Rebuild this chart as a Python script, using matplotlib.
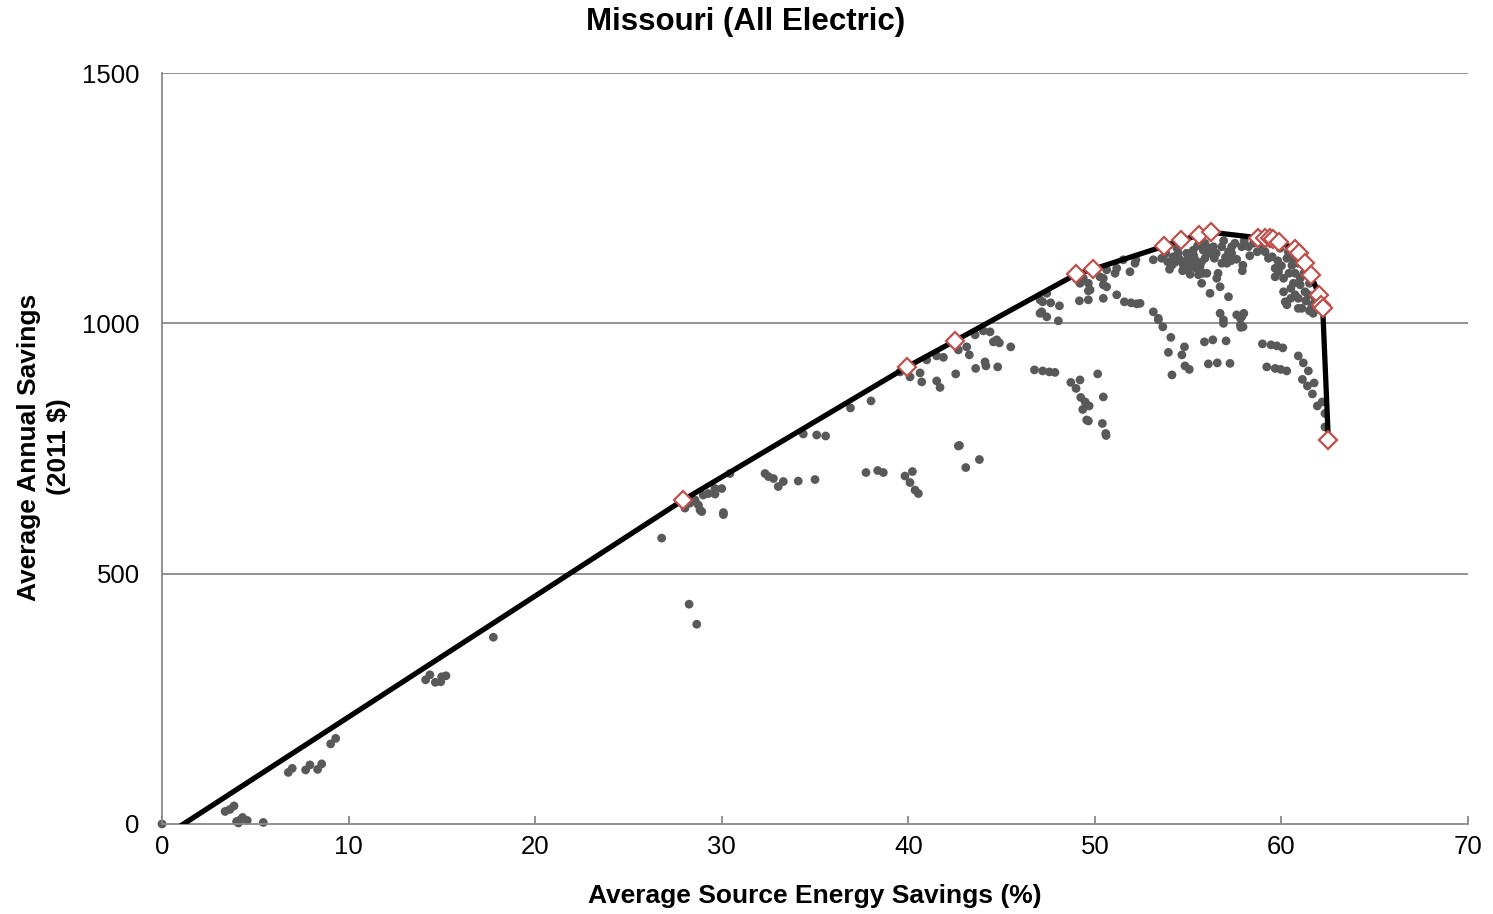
import matplotlib
matplotlib.use("Agg")
import matplotlib.pyplot as plt

plt.rcParams['font.family'] = ['Liberation Sans', 'DejaVu Sans']

# Scatter: all evaluated packages
pts_x = [0, 3.38, 3.64, 3.86, 4.0, 4.18, 4.32, 4.57, 4.1, 5.43,
         6.77, 6.98, 7.7, 7.93, 8.34, 8.56, 9.04, 9.31,
         14.13, 14.36, 14.65, 14.94, 14.99, 15.22, 17.76,
         28.25, 28.66,
         26.78, 28.03, 28.3, 28.57, 28.75, 28.84, 28.93, 29.01, 29.28, 29.64, 29.64, 30.0, 30.09, 30.09, 30.44,
         32.32, 32.5, 32.77, 33.03, 33.3, 34.1, 35.0,
         34.37, 35.09, 35.57,
         37.73, 38.36, 38.66, 39.82, 40.22, 40.09, 40.36, 40.54, 42.68, 36.9,
         38.0, 39.56, 40.09, 40.63, 40.72, 40.99, 41.52, 41.88, 41.52, 41.7, 42.54, 42.68, 43.13, 43.27, 43.58,
         44.02, 44.38, 44.56, 44.74, 44.88, 44.11, 44.16, 43.61, 44.79, 45.49, 42.74, 43.08, 43.81,
         46.76, 47.2, 47.56, 47.86, 48.71, 49.2, 48.99, 49.24, 49.48, 49.69, 49.35, 49.56, 49.65, 50.15, 50.45,
         50.4, 50.58, 50.6,
         47.15, 47.42, 48.04, 47.2, 47.63, 48.1, 49.17, 49.65,
         47.06, 47.42, 49.65, 49.65, 49.38, 49.2, 50.45, 50.45, 50.45, 50.63, 50.27, 51.08, 51.17, 51.17, 51.58,
         51.94, 52.24, 51.88, 52.15, 52.2, 51.52, 47.06, 49.74, 50.63,
         53.4, 53.64, 54.07, 53.94, 54.8, 54.66, 54.83, 55.06, 54.13, 55.87, 56.32, 57.03, 56.08, 56.56, 57.24,
         56.89, 56.89, 57.82, 57.8, 58.98, 59.44, 59.75, 60.07, 59.21, 59.66, 59.96, 60.28, 60.9, 61.17, 61.44,
         61.12, 61.39, 61.75, 61.66, 61.92, 62.18, 62.33, 62.33,
         53.13, 53.58, 54.12, 54.2, 54.47, 54.56, 54.74, 54.92, 55.0, 55.0, 55.19, 55.27, 55.37, 55.55, 55.72,
         55.63, 55.81, 56.17, 56.17, 56.35, 56.53, 56.71, 56.8, 57.07, 57.16, 56.71, 53.13, 53.4, 57.16, 57.6,
         56.8, 57.33, 52.42, 55.44, 57.33, 57.87, 57.94,
         57.87, 58.23, 57.93, 58.7, 59.12, 59.3, 59.5, 59.66, 59.84, 60.11, 60.11, 60.2, 60.29, 60.29, 60.56,
         60.64, 60.73, 60.9, 61.09, 61.0, 61.26, 61.44, 61.62, 60.73, 61.0, 59.92, 60.36, 60.64, 57.98, 57.8,
         59.66,
         53.9, 54.4, 55.5, 55.9, 56.4, 56.6, 57.5, 58.0, 58.5, 58.3, 57.6, 57.9, 59.0, 59.8, 60.0, 60.4, 60.5,
         60.9, 61.2, 61.5, 61.3, 61.8, 60.9, 61.5, 61.7, 62.0, 60.5, 56.0, 53.8, 55.8, 56.9, 58.8, 59.4,
         54.3, 54.9, 55.3, 55.7, 56.1, 54.7, 55.1, 55.9, 56.5, 57.0, 54.0, 57.3]
pts_y = [0, 25, 29, 36, 5, 8, 13, 7, 2, 3,
         103, 111, 108, 118, 109, 120, 160, 171,
         288, 298, 283, 284, 294, 296, 373,
         439, 399,
         571, 631, 641, 647, 637, 627, 624, 657, 660, 670, 659, 670, 622, 618, 700,
         700, 694, 690, 674, 684, 685, 688,
         779, 777, 775,
         702, 706, 702, 695, 704, 682, 667, 660, 755, 831,
         845, 903, 893, 901, 883, 927, 935, 932, 885, 872, 899, 947, 953, 937, 977,
         985, 983, 963, 967, 961, 923, 915, 910, 913, 953, 756, 712, 728,
         907, 905, 903, 902, 882, 887, 870, 852, 843, 835, 828, 807, 805, 899, 853,
         800, 780, 776,
         1023, 1013, 1005, 1043, 1041, 1035, 1045, 1047,
         1020, 1060, 1065, 1080, 1090, 1080, 1050, 1077, 1090, 1107, 1093, 1100, 1110, 1057, 1043,
         1041, 1039, 1103, 1120, 1127, 1127, 1047, 1067, 1073,
         1007, 993, 972, 942, 953, 937, 915, 908, 897, 963, 967, 965, 919, 921, 920,
         1000, 1007, 992, 997, 959, 957, 955, 951, 913, 910, 908, 905, 935, 921, 905,
         888, 875, 881, 859, 835, 843, 820, 793,
         1127, 1130, 1116, 1133, 1140, 1127, 1116, 1140, 1130, 1107, 1116, 1146, 1127, 1097, 1080,
         1113, 1146, 1060, 1140, 1153, 1090, 1073, 1120, 1120, 1053, 1020, 1023, 1010, 1143, 1017,
         1153, 1153, 1040, 1110, 1140, 1013, 993,
         1153, 1153, 1116, 1143, 1143, 1130, 1133, 1110, 1103, 1090, 1063, 1043, 1037, 1130, 1116,
         1080, 1057, 1050, 1030, 1077, 1063, 1057, 1037, 1100, 1090, 1150, 1143, 1130, 1020, 1010,
         1093,
         1123, 1150, 1155, 1130, 1130, 1100, 1160, 1165, 1160, 1135, 1128, 1105, 1155, 1125, 1115, 1100, 1070,
         1120, 1100, 1080, 1045, 1050, 1030, 1025, 1020, 1040, 1050, 1100, 1140, 1100, 1165, 1170, 1160,
         1122, 1120, 1135, 1122, 1150, 1105, 1098, 1160, 1140, 1132, 1108, 1125]

# Least-cost (optimal) curve points
front_x = [0.0, 27.93, 39.93, 42.5, 48.99, 49.9, 53.7, 54.6, 55.6, 56.2,
           58.76, 59.12, 59.39, 59.57, 59.87, 60.73, 60.96, 61.26, 61.57, 62.03, 62.12, 62.21, 62.51]
front_y = [-28, 647, 913, 965, 1098, 1108, 1154, 1166, 1176, 1182,
           1171, 1171, 1170, 1168, 1163, 1148, 1140, 1120, 1096, 1056, 1036, 1030, 767]

x_ticks = [0, 10, 20, 30, 40, 50, 60, 70]
y_ticks = [0, 500, 1000, 1500]

fig = plt.figure(figsize=(14.93, 9.14), dpi=100)
ax = fig.add_axes([0.1085, 0.0985, 0.8748, 0.8216])

grid_c = '#898989'
for yv in y_ticks[1:]:
    ax.axhline(yv, color=grid_c, lw=1.3, zorder=1)

ax.scatter(pts_x, pts_y, s=40, color='#595959', edgecolors='none', zorder=2, clip_on=False)
ax.plot(front_x, front_y, color='black', lw=3.8, zorder=3, solid_capstyle='butt')
ax.plot(front_x[1:], front_y[1:], linestyle='none', marker='D', markersize=9.5,
        markerfacecolor='white', markeredgecolor='#C0504D', markeredgewidth=1.6, zorder=4)

ax.set_xlim(0, 70)
ax.set_ylim(0, 1500)
ax.set_xticks(x_ticks)
ax.set_yticks(y_ticks)
ax.tick_params(axis='x', direction='in', length=6, width=1.3, color=grid_c, labelsize=18.5, pad=8)
ax.tick_params(axis='y', direction='out', length=0, width=1.3, color=grid_c, labelsize=18.5, pad=16)

for s in ['top', 'right']:
    ax.spines[s].set_visible(False)
for s in ['left', 'bottom']:
    ax.spines[s].set_color(grid_c)
    ax.spines[s].set_linewidth(1.3)

fig.text(0.4997, 0.976, 'Missouri (All Electric)', fontsize=22.5, fontweight='bold',
         ha='center', va='center')
ax.set_xlabel('Average Source Energy Savings (%)', fontsize=19, fontweight='bold', labelpad=18)
fig.text(0.0295, 0.511, 'Average Annual Savings\n(2011 $)', fontsize=19, fontweight='bold',
         rotation=90, ha='center', va='center', multialignment='center', linespacing=1.35)

fig.savefig('out.png', dpi=100)
